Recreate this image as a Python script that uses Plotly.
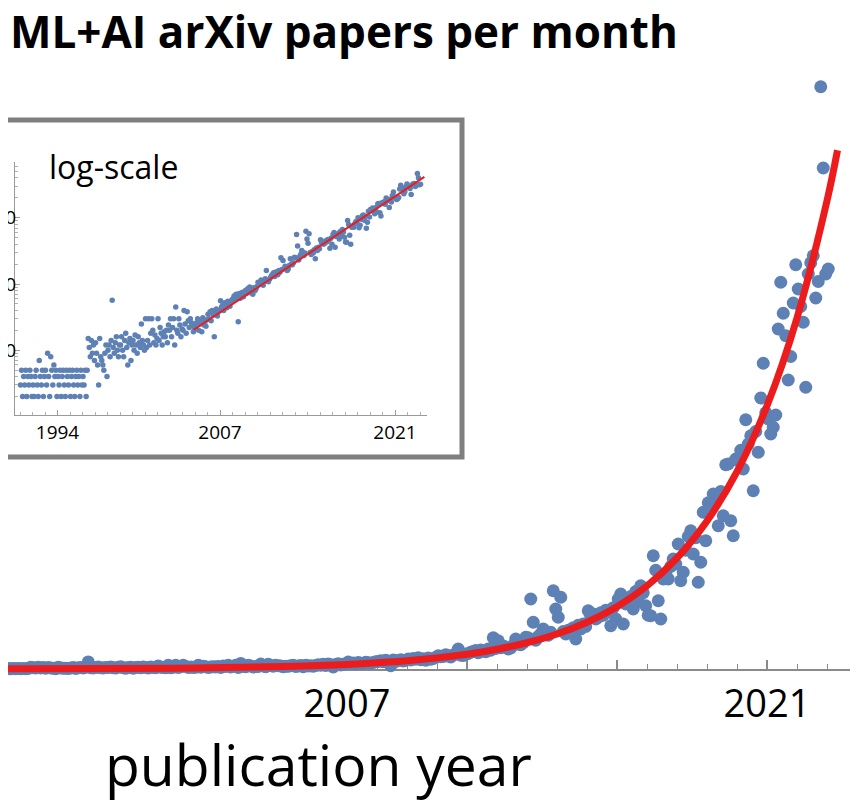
import numpy as np
import plotly.graph_objects as go

# monthly ML+AI arXiv paper counts (first month: Jan 1991)
counts_1991_1996 = [
    3, 5, 2, 4, 3, 5, 2, 4, 3, 5, 4, 2,
    3, 2, 4, 5, 3, 2, 7, 4, 3, 5, 2, 4,
    5, 3, 9, 4, 2, 8, 5, 3, 6, 4, 5, 2,
    4, 3, 5, 2, 4, 5, 3, 2, 5, 4, 3, 5,
    2, 4, 5, 3, 2, 4, 5, 3, 4, 2, 5, 3,
    4, 3, 5, 2, 5, 15, 11, 8, 14, 9, 12, 7,
]
counts_1997_2004 = [
    13, 9, 6, 3, 15, 8, 7, 6, 5, 9, 12, 4,
    10, 12, 8, 14, 57, 11, 9, 13, 16, 10, 8, 12,
    12, 16, 10, 8, 14, 18, 11, 6, 13, 15, 7, 12,
    14, 10, 17, 12, 9, 16, 13, 11, 25, 14, 12, 10,
    30, 11, 14, 30, 12, 18, 30, 20, 13, 17, 12, 15,
    30, 14, 22, 18, 12, 16, 19, 16, 20, 13, 24, 20,
    30, 16, 22, 30, 12, 45, 20, 18, 30, 24, 16, 21,
    20, 40, 25, 18, 38, 28, 22, 30, 26, 24, 19, 22,
]
counts_2005_2012 = [
    22, 26, 30, 20, 25, 28, 19, 31, 24, 27, 23, 29,
    35, 30, 38, 28, 40, 34, 16, 36, 42, 33, 38, 40,
    56, 45, 48, 40, 52, 47, 44, 55, 50, 46, 53, 58,
    60, 66, 58, 70, 62, 27, 72, 61, 68, 75, 64, 70,
    80, 72, 85, 78, 90, 74, 82, 70, 88, 79, 84, 92,
    106, 98, 100, 115, 104, 96, 112, 120, 160, 110, 108, 118,
    125, 134, 140, 148, 130, 152, 145, 138, 160, 150, 250, 165,
    226, 170, 185, 175, 160, 168, 190, 240, 200, 195, 210, 254,
]
counts_2013_2018 = [
    250, 560, 374, 230, 260, 280, 320, 300, 270, 294, 626, 480,
    414, 574, 300, 280, 310, 294, 330, 240, 350, 320, 360, 340,
    466, 420, 440, 400, 414, 450, 430, 470, 460, 346, 490, 400,
    560, 600, 360, 520, 550, 580, 480, 620, 540, 666, 610, 506,
    430, 426, 906, 790, 546, 400, 720, 760, 720, 820, 880, 840,
    1000, 706, 774, 950, 1060, 1106, 920, 1050, 694, 854, 1254, 1026,
]
counts_2019_2023 = [
    1330, 1280, 1400, 1350, 1146, 1420, 1226, 1634, 1640, 1186, 1066, 1680,
    1666, 1750, 1600, 1994, 1800, 1866, 1426, 1900, 1734, 2168, 2446, 2050,
    2000, 1880, 1934, 2032, 2720, 3094, 2846, 2666, 2312, 2500, 2928, 3234,
    3040, 2900, 2774, 2254, 3160, 3250, 3306, 2968, 3100, 4658, 4008, 3160,
    3200,
]

# red trend curve
fit_years = [1991, 1995, 1999, 2002, 2004.9, 2007, 2009, 2011, 2012, 2013, 2014,
             2015, 2016, 2017, 2018, 2019, 2020, 2021, 2022, 2023, 2023.35]
fit_values = [0.4, 1.2, 3.7, 8.9, 20.4, 37, 66, 118, 158, 210, 280,
              374, 499, 665, 888, 1184, 1579, 2106, 2809, 3746, 4150]

main_ticks = [2007, 2011, 2016, 2021]
main_ticktext = ["2007", "", "", "2021"]
inset_ticks = [1994, 2007, 2021]
inset_yticks = [10, 100, 1000]

counts = counts_1991_1996 + counts_1997_2004 + counts_2005_2012 + counts_2013_2018 + counts_2019_2023
months = 1991 + (np.arange(len(counts)) + 0.5) / 12

BLUE = "#5E81B5"
RED = "#EC1C1C"
GREY = "#8a8a8a"
FONT = "Open Sans"

# the page has an 8px body margin, so the figure is drawn 8px in from the window corner
OFF = 8
W, H = 864 - OFF, 812 - OFF
PLOT_RIGHT, PLOT_BOTTOM = 850, 690   # window pixels
plot_w, plot_h = PLOT_RIGHT - OFF, PLOT_BOTTOM - OFF


def px_x(x):
    # window pixel -> paper x
    return (x - OFF) / plot_w


def px_y(y):
    # window pixel -> paper y
    return (PLOT_BOTTOM - y) / plot_h


fig = go.Figure()

# main linear chart
fig.add_trace(go.Scatter(x=months, y=counts, mode="markers", cliponaxis=False,
                         marker=dict(color=BLUE, size=13), xaxis="x", yaxis="y"))
fig.add_trace(go.Scatter(x=fit_years, y=fit_values, mode="lines", line_shape="spline",
                         line=dict(color=RED, width=7), xaxis="x", yaxis="y"))

# log-scale inset
fig.add_trace(go.Scatter(x=months, y=counts, mode="markers",
                         marker=dict(color=BLUE, size=5.5), xaxis="x2", yaxis="y2"))
fig.add_trace(go.Scatter(x=fit_years[4:], y=fit_values[4:], mode="lines",
                         line=dict(color=RED, width=2), xaxis="x2", yaxis="y2"))

fig.update_layout(
    width=W, height=H,
    margin=dict(l=0, r=W - plot_w, t=0, b=H - plot_h),
    paper_bgcolor="white", plot_bgcolor="rgba(0,0,0,0)",
    showlegend=False,
    font=dict(family=FONT, color="black"),
    xaxis=dict(range=[2021 + (OFF - 767) / 30, 2021 + (PLOT_RIGHT - 767) / 30],
               anchor="free", position=px_y(670),
               showline=True, linecolor=GREY, linewidth=2,
               ticks="inside", ticklen=9, tickwidth=1.5, tickcolor=GREY,
               tickvals=main_ticks, ticktext=main_ticktext,
               tickfont=dict(size=38, family=FONT, color="black"),
               ticklabelstandoff=0,
               minor=dict(ticks="inside", ticklen=5, tickwidth=1.2, tickcolor=GREY, dtick=1, tick0=2000),
               showgrid=False, zeroline=False, layer="below traces"),
    yaxis=dict(range=[-168, plot_h / 0.125 - 168], visible=False, fixedrange=True),
    xaxis2=dict(domain=[px_x(15), px_x(427)], anchor="y2", range=[1990.6, 2023.56],
                showline=True, linecolor="#9a9a9a", linewidth=1,
                ticks="inside", ticklen=5, tickcolor="#9a9a9a",
                tickvals=inset_ticks, tickfont=dict(size=19, family=FONT, color="black"),
                minor=dict(ticks="inside", ticklen=3, tickcolor="#b0b0b0", dtick=1, tick0=1990),
                showgrid=False, zeroline=False),
    yaxis2=dict(domain=[px_y(415), px_y(162)], anchor="x2", type="log", range=[0.0226, 3.842],
                showline=True, linecolor="#9a9a9a", linewidth=1,
                ticks="inside", ticklen=5, tickcolor="#9a9a9a",
                tickvals=inset_yticks, ticktext=[str(v) for v in inset_yticks],
                tickfont=dict(size=19, family=FONT, color="black"),
                ticklabelstandoff=-6,
                minor=dict(ticks="inside", ticklen=3, tickcolor="#b0b0b0",
                           tickvals=[2, 3, 4, 5, 6, 7, 8, 9, 20, 30, 40, 50, 60, 70, 80, 90,
                                     200, 300, 400, 500, 600, 700, 800, 900, 2000, 3000, 4000, 5000, 6000]),
                showgrid=False, zeroline=False, automargin=False),
)

fig.add_shape(type="rect", xref="paper", yref="paper",
              x0=px_x(-30), x1=px_x(462), y0=px_y(457), y1=px_y(120),
              line=dict(color="#7f7f7f", width=5), fillcolor="white", layer="below")

fig.add_annotation(text="<b>ML+AI arXiv papers per month</b>", xref="paper", yref="paper",
                   x=px_x(8), y=px_y(31), xanchor="left", yanchor="middle", showarrow=False,
                   font=dict(size=44, family=FONT, color="black"))
fig.add_annotation(text="log-scale", xref="paper", yref="paper",
                   x=px_x(47), y=px_y(166), xanchor="left", yanchor="middle", showarrow=False,
                   font=dict(size=32, family=FONT, color="black"))
fig.add_annotation(text="publication year", xref="paper", yref="paper",
                   x=px_x(318), y=px_y(764), xanchor="center", yanchor="middle", showarrow=False,
                   font=dict(size=57, family=FONT, color="black"))

fig.write_html("out.html")
